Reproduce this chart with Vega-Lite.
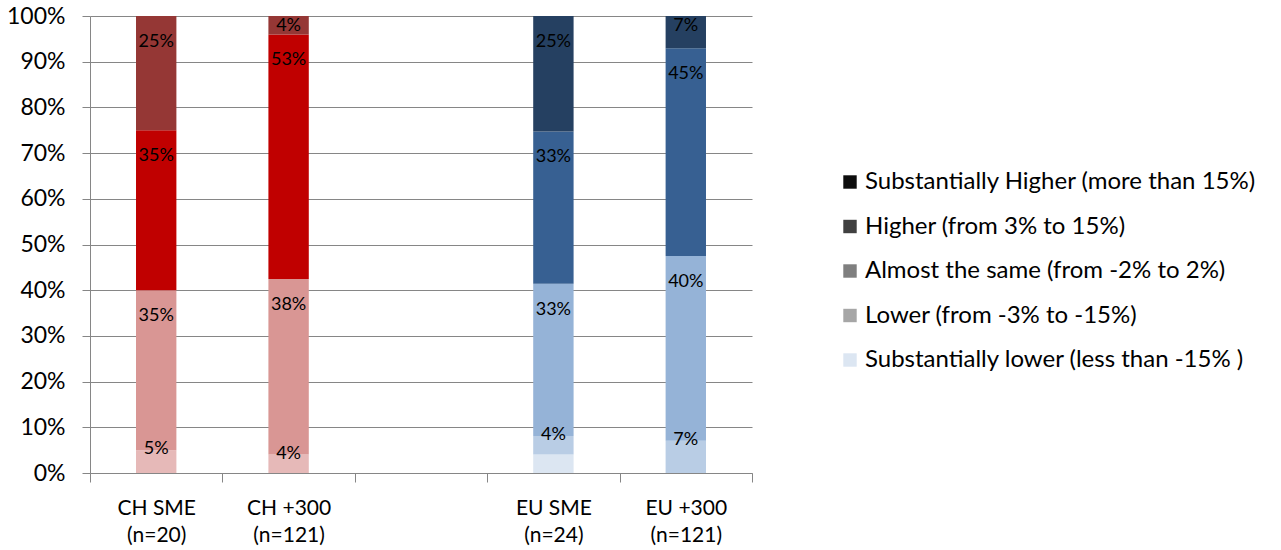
{
  "$schema": "https://vega.github.io/schema/vega-lite/v6.json",
  "width": 662,
  "height": 457,
  "autosize": {"type": "none"},
  "padding": {"left": 90, "top": 16, "right": 529, "bottom": 77},
  "background": "white",
  "config": {"view": {"stroke": null}, "font": "Lato"},
  "data": {
    "values": [
      {"group": "CH SME|(n=20)", "region": "CH", "cat": "Substantially lower (less than -15% )", "value": 0},
      {"group": "CH SME|(n=20)", "region": "CH", "cat": "Lower (from -3% to -15%)", "value": 0.05},
      {"group": "CH SME|(n=20)", "region": "CH", "cat": "Almost the same (from -2% to 2%)", "value": 0.35},
      {"group": "CH SME|(n=20)", "region": "CH", "cat": "Higher (from 3% to 15%)", "value": 0.35},
      {"group": "CH SME|(n=20)", "region": "CH", "cat": "Substantially Higher (more than 15%)", "value": 0.25},
      {"group": "CH +300|(n=121)", "region": "CH", "cat": "Substantially lower (less than -15% )", "value": 0},
      {"group": "CH +300|(n=121)", "region": "CH", "cat": "Lower (from -3% to -15%)", "value": 0.04},
      {"group": "CH +300|(n=121)", "region": "CH", "cat": "Almost the same (from -2% to 2%)", "value": 0.38},
      {"group": "CH +300|(n=121)", "region": "CH", "cat": "Higher (from 3% to 15%)", "value": 0.53},
      {"group": "CH +300|(n=121)", "region": "CH", "cat": "Substantially Higher (more than 15%)", "value": 0.04},
      {"group": "EU SME|(n=24)", "region": "EU", "cat": "Substantially lower (less than -15% )", "value": 0.04},
      {"group": "EU SME|(n=24)", "region": "EU", "cat": "Lower (from -3% to -15%)", "value": 0.04},
      {"group": "EU SME|(n=24)", "region": "EU", "cat": "Almost the same (from -2% to 2%)", "value": 0.33},
      {"group": "EU SME|(n=24)", "region": "EU", "cat": "Higher (from 3% to 15%)", "value": 0.33},
      {"group": "EU SME|(n=24)", "region": "EU", "cat": "Substantially Higher (more than 15%)", "value": 0.25},
      {"group": "EU +300|(n=121)", "region": "EU", "cat": "Substantially lower (less than -15% )", "value": 0},
      {"group": "EU +300|(n=121)", "region": "EU", "cat": "Lower (from -3% to -15%)", "value": 0.07},
      {"group": "EU +300|(n=121)", "region": "EU", "cat": "Almost the same (from -2% to 2%)", "value": 0.40},
      {"group": "EU +300|(n=121)", "region": "EU", "cat": "Higher (from 3% to 15%)", "value": 0.45},
      {"group": "EU +300|(n=121)", "region": "EU", "cat": "Substantially Higher (more than 15%)", "value": 0.07}
    ]
  },
  "transform": [
    {"calculate": "indexof(['Substantially lower (less than -15% )','Lower (from -3% to -15%)','Almost the same (from -2% to 2%)','Higher (from 3% to 15%)','Substantially Higher (more than 15%)'], datum.cat)", "as": "idx"},
    {"calculate": "datum.region + ':' + datum.idx", "as": "key"},
    {"stack": "value", "groupby": ["group"], "sort": [{"field": "idx", "order": "ascending"}], "offset": "normalize", "as": ["y0", "y1"]}
  ],
  "encoding": {
    "x": {
      "field": "group",
      "type": "nominal",
      "title": null,
      "scale": {
        "domain": ["CH SME|(n=20)", "CH +300|(n=121)", "gap", "EU SME|(n=24)", "EU +300|(n=121)"],
        "paddingInner": 0,
        "paddingOuter": 0
      },
      "axis": {
        "labelExpr": "isString(datum.value) && datum.value != 'gap' ? split(datum.value, '|') : ''",
        "labelAngle": 0,
        "labelFontSize": 21,
        "labelColor": "#000000",
        "labelLineHeight": 27,
        "labelPadding": 15,
        "tickBand": "extent",
        "tickSize": 9,
        "tickColor": "#868686",
        "domainColor": "#868686",
        "grid": false
      }
    }
  },
  "layer": [
    {
      "mark": {"type": "bar", "width": {"band": 0.305}},
      "encoding": {
        "y": {
          "field": "y0",
          "type": "quantitative",
          "title": null,
          "scale": {"domain": [0, 1], "nice": false},
          "axis": {
            "values": [0, 0.1, 0.2, 0.3, 0.4, 0.5, 0.6, 0.7, 0.8, 0.9, 1],
            "format": ".0%",
            "labelFontSize": 23,
            "labelColor": "#000000",
            "labelPadding": 17,
            "tickSize": 8,
            "tickColor": "#868686",
            "domainColor": "#868686",
            "gridColor": "#868686",
            "grid": true
          }
        },
        "y2": {"field": "y1"},
        "fill": {
          "field": "key",
          "type": "nominal",
          "legend": null,
          "scale": {
            "domain": ["CH:0", "CH:1", "CH:2", "CH:3", "CH:4", "EU:0", "EU:1", "EU:2", "EU:3", "EU:4"],
            "range": ["#F2DCDB", "#E6B9B8", "#D99694", "#C00000", "#953735", "#DCE6F2", "#B9CDE5", "#95B3D7", "#376092", "#254061"]
          }
        }
      }
    },
    {
      "transform": [{"filter": "datum.value >= 0.1"}],
      "mark": {"type": "text", "fontSize": 18, "baseline": "middle", "dy": 26, "color": "#000000"},
      "encoding": {
        "y": {"field": "y1", "type": "quantitative"},
        "text": {"field": "value", "type": "quantitative", "format": ".0%"}
      }
    },
    {
      "transform": [{"filter": "datum.value > 0 && datum.value < 0.1 && datum.idx > 0 && datum.idx < 4"}],
      "mark": {"type": "text", "fontSize": 18, "baseline": "middle", "dy": -1, "color": "#000000"},
      "encoding": {
        "y": {"field": "y1", "type": "quantitative"},
        "text": {"field": "value", "type": "quantitative", "format": ".0%"}
      }
    },
    {
      "transform": [{"filter": "datum.value > 0 && datum.value < 0.1 && datum.idx == 4"}],
      "mark": {"type": "text", "fontSize": 18, "baseline": "middle", "dy": 10, "color": "#000000"},
      "encoding": {
        "y": {"field": "y1", "type": "quantitative"},
        "text": {"field": "value", "type": "quantitative", "format": ".0%"}
      }
    },
    {
      "mark": {"type": "point", "shape": "square", "filled": true, "opacity": 0},
      "encoding": {
        "y": {"field": "y1", "type": "quantitative"},
        "color": {
          "field": "cat",
          "type": "nominal",
          "scale": {
            "domain": ["Substantially Higher (more than 15%)", "Higher (from 3% to 15%)", "Almost the same (from -2% to 2%)", "Lower (from -3% to -15%)", "Substantially lower (less than -15% )"],
            "range": ["#0D0D0D", "#404040", "#7F7F7F", "#A6A6A6", "#DCE6F2"]
          },
          "legend": {
            "title": null,
            "orient": "none",
            "legendX": 748,
            "legendY": 154,
            "padding": 0,
            "symbolType": "square",
            "symbolSize": 180,
            "symbolOpacity": 1,
            "symbolStrokeWidth": 0,
            "labelFontSize": 24,
            "labelColor": "#000000",
            "labelOffset": 3,
            "labelLimit": 520,
            "rowPadding": 20.5
          }
        }
      }
    }
  ]
}
